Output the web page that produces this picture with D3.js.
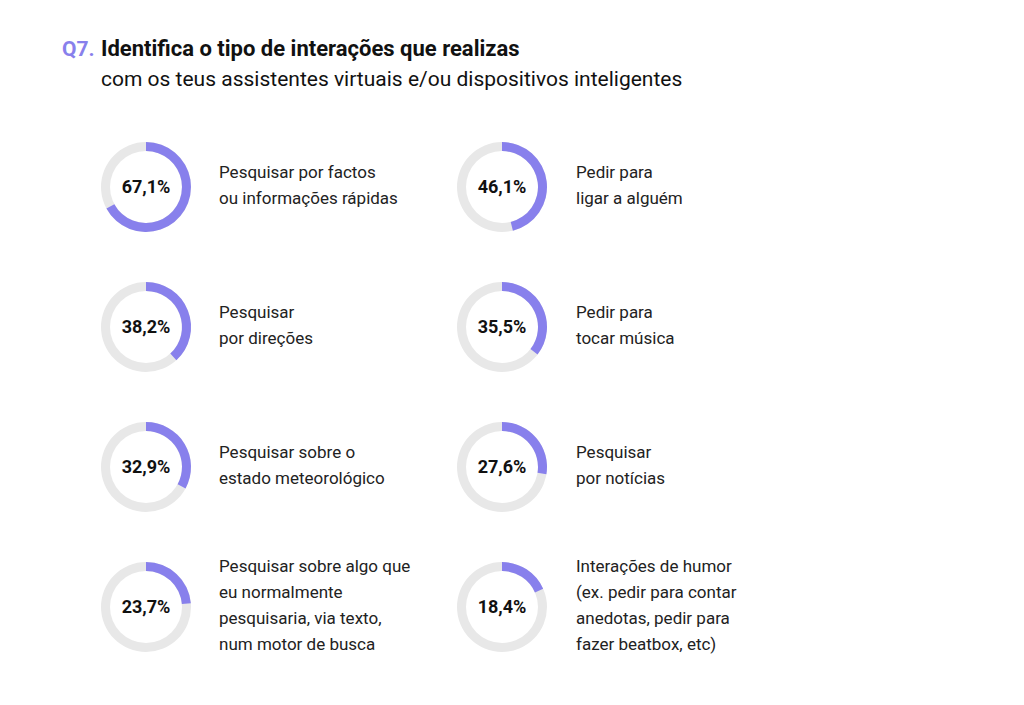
<!DOCTYPE html>
<html><head><meta charset="utf-8">
<script src="https://cdn.jsdelivr.net/npm/d3@7"></script>
<style>html,body{margin:0;padding:0;background:#fff;}svg{display:block;}</style>
</head><body>
<svg id="chart" width="1024" height="705"></svg>
<script>
const values = [67.1, 46.1, 38.2, 35.5, 32.9, 27.6, 23.7, 18.4];
const labels = [
  ["Pesquisar por factos", "ou informações rápidas"],
  ["Pedir para", "ligar a alguém"],
  ["Pesquisar", "por direções"],
  ["Pedir para", "tocar música"],
  ["Pesquisar sobre o", "estado meteorológico"],
  ["Pesquisar", "por notícias"],
  ["Pesquisar sobre algo que", "eu normalmente", "pesquisaria, via texto,", "num motor de busca"],
  ["Interações de humor", "(ex. pedir para contar", "anedotas, pedir para", "fazer beatbox, etc)"]
];
const titleQ = "Q7.";
const titleMain = "Identifica o tipo de interações que realizas";
const subtitle = "com os teus assistentes virtuais e/ou dispositivos inteligentes";

const font = "Roboto, 'Noto Sans', sans-serif";
const svg = d3.select("#chart");
const purple = "#8880ec", grey = "#e8e8e8";

svg.append("text").attr("x", 62).attr("y", 56).attr("font-family", font)
  .attr("font-weight", 700).attr("font-size", 21).attr("fill", purple).text(titleQ);
svg.append("text").attr("x", 101).attr("y", 56).attr("font-family", font)
  .attr("font-weight", 700).attr("font-size", 22).attr("fill", "#111").text(titleMain);
svg.append("text").attr("x", 101).attr("y", 86).attr("font-family", font)
  .attr("font-weight", 400).attr("font-size", 21).attr("fill", "#111").text(subtitle);

const col = d3.scalePoint().domain([0, 1]).range([146, 502]);
const row = d3.scalePoint().domain([0, 1, 2, 3]).range([187, 607]);
const angle = d3.scaleLinear().domain([0, 100]).range([0, 2 * Math.PI]);
const arc = d3.arc().innerRadius(36).outerRadius(45);

values.forEach((v, i) => {
  const cx = col(i % 2), cy = row(Math.floor(i / 2));
  const g = svg.append("g").attr("transform", `translate(${cx},${cy})`);
  g.append("path").attr("d", arc({startAngle: 0, endAngle: 2 * Math.PI})).attr("fill", grey);
  g.append("path").attr("d", arc({startAngle: 0, endAngle: angle(v)})).attr("fill", purple);
  g.append("text").attr("text-anchor", "middle").attr("dy", "0.35em")
    .attr("font-family", font).attr("font-weight", 700).attr("font-size", 18).attr("fill", "#111")
    .text(v.toFixed(1).replace(".", ",") + "%");
  const lines = labels[i];
  const lh = 26;
  const tx = i % 2 === 0 ? 219 : 576;
  const t = svg.append("text").attr("font-family", font).attr("font-size", 17).attr("fill", "#222");
  lines.forEach((l, k) => {
    t.append("tspan").attr("x", tx).attr("y", cy - 2 + (k - (lines.length - 1) / 2) * lh).attr("dy", "0.35em").text(l);
  });
});
</script>
</body></html>
